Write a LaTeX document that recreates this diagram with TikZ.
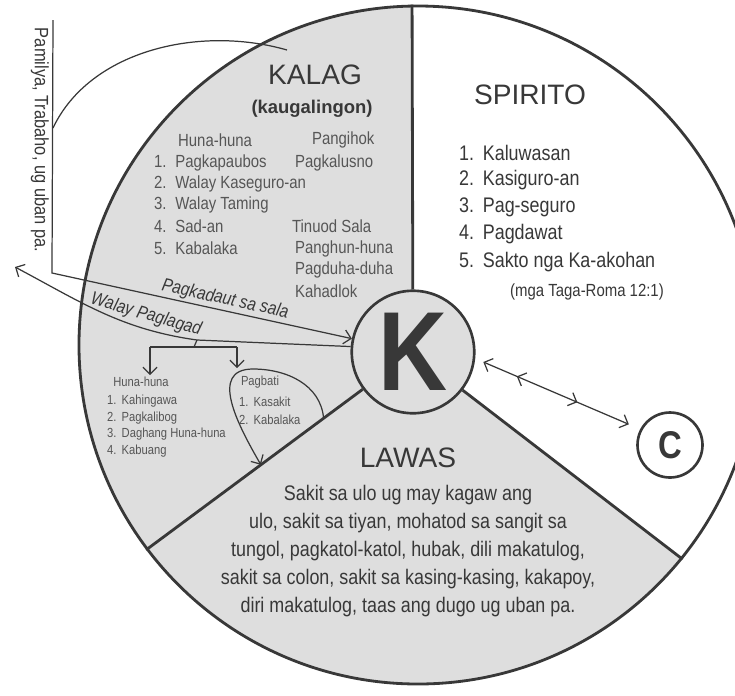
\documentclass[tikz,border=0pt]{standalone}
\usepackage{fontspec}
\setmainfont{Liberation Sans}
\newfontfamily\narrow[FakeStretch=0.85]{Liberation Sans}
\usetikzlibrary{arrows.meta,calc,decorations.markings}
\definecolor{dotgray}{gray}{0.87}
\definecolor{ink}{gray}{0.22}

\begin{document}
\begin{tikzpicture}[>={Straight Barb[length=4pt,width=8pt]},
  divider/.style={line width=1.6pt,draw=ink},
  thin/.style={draw=ink,line width=0.7pt},
  head/.style={font=\fontsize{16}{16}\selectfont,text=ink},
  mid/.style={font=\narrow\fontsize{12}{14}\selectfont,text=ink,anchor=west,inner sep=1pt},
  small/.style={font=\narrow\fontsize{10}{12}\selectfont,text=ink!85,anchor=west,inner sep=1pt},
  tiny/.style={font=\narrow\fontsize{7.5}{9}\selectfont,text=ink!85,anchor=west,inner sep=1pt},
  lbl/.style={font=\narrow\itshape\fontsize{10.5}{10.5}\selectfont,text=ink,inner sep=0pt}]
\useasboundingbox (-8.36,-7.0) rectangle (6.34,6.9);

% wheel with the three parts
\fill[dotgray] (0,0) circle[radius=6.78];
\fill[white] (-0.1,-0.14) -- (91:6.78) arc[start angle=91,end angle=-39,radius=6.78] -- cycle;
\node[circle,draw=ink,line width=1.6pt,minimum size=13.56cm,inner sep=0pt] (wheel) at (0,0) {};
\node[circle,draw=ink,line width=1.5pt,fill=dotgray,minimum size=2.45cm,inner sep=0pt,
      font=\narrow\bfseries\fontsize{64}{64}\selectfont,text=ink] (K) at (-0.1,-0.14) {K};
\draw[divider] (K) -- (wheel.91);
\draw[divider] (K) -- (wheel.217);
\draw[divider] (K) -- (wheel.-39);

% KALAG
\node[head] (kalag) at (-2.06,5.4) {KALAG};
\node[font=\bfseries\fontsize{10.5}{12}\selectfont,text=ink] (kaug) at (-2.12,4.72) {(kaugalingon)};
\node[small] (hh) at (-4.84,4.1) {Huna-huna};
\node[small] (ph) at (-2.16,4.1) {Pangihok};
\foreach \i/\t in {1/Pagkapaubos,2/Walay Kaseguro-an,3/Walay Taming,4/Sad-an,5/Kabalaka}
  \node[small] (kl\i) at (-5.32,{4.07-\i*0.425}) {\i.\hspace{5pt}\t};
\node[small] (kr1) at (-2.5,3.64) {Pagkalusno};
\node[small] (kr2) at (-2.56,2.38) {Tinuod Sala};
\foreach \i/\t in {3/Panghun-huna,4/Pagduha-duha,5/Kahadlok}
  \node[small] (kr\i) at (-2.5,{1.92-(\i-3)*0.42}) {\t};

% SPIRITO
\node[head] (spirito) at (2.24,5.0) {SPIRITO};
\foreach \i/\t in {1/Kaluwasan,2/Kasiguro-an,3/Pag-seguro,4/Pagdawat,5/Sakto nga Ka-akohan}
  \node[mid] (sp\i) at (0.78,{4.39-\i*0.545}) {\i.\hspace{5pt}\t};
\node[font=\narrow\fontsize{10}{10}\selectfont,text=ink] (rom) at (3.38,1.06) {(mga Taga-Roma 12:1)};

% LAWAS
\node[head] (lawas) at (-0.2,-2.26) {LAWAS};
\node[font=\narrow\fontsize{12}{15.9}\selectfont,align=center,text=ink] (lawtxt) at (-0.2,-4.12)
  {Sakit sa ulo ug may kagaw ang\\ulo, sakit sa tiyan, mohatod sa sangit sa\\
   tungol, pagkatol-katol, hubak, dili makatulog,\\sakit sa colon, sakit sa kasing-kasing, kakapoy,\\
   diri makatulog, taas ang dugo ug uban pa.};

% small lists
\node[tiny,anchor=center] (hl) at (-5.54,-0.74) {Huna-huna};
\foreach \i/\t in {1/Kahingawa,2/Pagkalibog,3/Daghang Huna-huna,4/Kabuang}
  \node[tiny] (hl\i) at (-6.26,{-0.8-\i*0.33}) {\i.\hspace{3pt}\t};
\node[tiny,anchor=center] (pb) at (-3.16,-0.74) {Pagbati};
\foreach \i/\t in {1/Kasakit,2/Kabalaka}
  \node[tiny] (pb\i) at (-3.62,{-0.78-\i*0.36}) {\i.\hspace{3pt}\t};

% outside: Pamilya bracket
\node[font=\narrow\fontsize{11}{11}\selectfont,text=ink,rotate=-90] (pam) at (-7.56,4.1) {Pamilya, Trabaho, ug uban pa.};
\coordinate (brtop) at (-7.3,6.5);
\coordinate (brmid) at (-7.3,4.34);
\coordinate (brbot) at (-7.32,1.44);
\coordinate (hook) at (-2.62,5.9);
\draw[thin] (brmid) .. controls (-6.56,5.9) and (-4.36,6.4) .. (hook);
\draw[thin,->] (brtop) -- (brbot) -- node[lbl,sloped,above=1pt,pos=0.57] (pk) {Pagkadaut sa sala} (K);

% Walay Paglagad
\coordinate (wj) at (-4.42,0.1);
\coordinate (wend) at (-8.06,1.56);
\draw[thin,->] (K.175) -- (wj) to[out=172,in=-28] (wend);
\node[lbl,rotate=-16] (wp) at (-5.44,0.6) {Walay Paglagad};
\coordinate (barM) at (-4.48,-0.04);
\coordinate (barL) at (-5.36,-0.04);
\coordinate (barR) at (-3.62,-0.04);
\coordinate (pbtop) at (-3.62,-0.46);
\draw[thin] (wj) -- (barM);
\draw[thin] (barL) -- (barR);
\draw[thin,->] (barL) -- (barL |- hl.north);
\draw[thin,->] (barR) -- (pbtop);

% Pagbati loop into LAWAS
\coordinate (lpA) at ($(K.center)!0.335!(wheel.217)$);
\coordinate (lpB) at ($(K.center)!0.57!(wheel.217)$);
\coordinate (looptop) at (-3.3,-0.48);
\draw[thin,->] (lpA) to[out=95,in=0] (looptop) to[out=180,in=120,looseness=1.2] (lpB);

% C
\node[circle,draw=ink,line width=1.5pt,minimum size=1.3cm,inner sep=0pt,
      font=\narrow\bfseries\fontsize{22}{22}\selectfont,text=ink] (C) at (5.04,-2.0) {C};
\draw[thin,<->,shorten <=5pt,shorten >=7pt,postaction={decorate},
  decoration={markings,mark=at position 0.3 with {\arrow{<}},mark=at position 0.62 with {\arrow{>}}}]
  (K.-6) -- (C.152);
\end{tikzpicture}
\end{document}
